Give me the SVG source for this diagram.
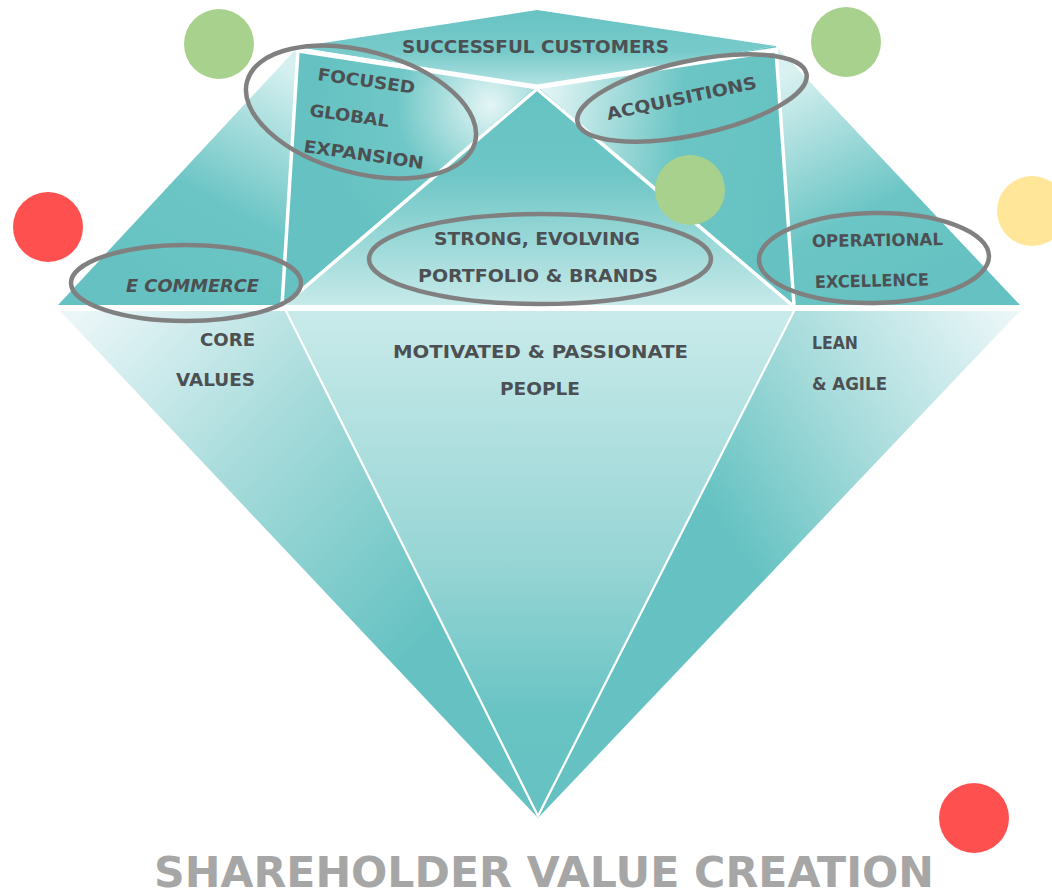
<svg xmlns="http://www.w3.org/2000/svg" width="1052" height="895" viewBox="0 0 1052 895">
  <style>
    .lbl { font-family: "DejaVu Sans", Verdana, sans-serif; font-weight: bold; fill: #4d5052; }
    .crown { font-size: 17px; }
    .pav { font-size: 18px; }
    .ring { fill: none; stroke: #808080; stroke-width: 4.5; }
    .edge { stroke: #ffffff; stroke-linecap: round; fill: none; }
    .dot-green { fill: #a9d18e; }
    .dot-red { fill: #ff5050; }
    .dot-yellow { fill: #ffe699; }
    .title { font-family: "DejaVu Sans", Verdana, sans-serif; font-weight: bold; font-size: 43px; fill: #a6a6a6; }
  </style>
  <defs>
    <linearGradient id="gTable" gradientUnits="userSpaceOnUse" x1="537" y1="10" x2="537" y2="86">
      <stop offset="0" stop-color="#68c3c3"/>
      <stop offset="0.55" stop-color="#78caca"/>
      <stop offset="1" stop-color="#b3e2e2"/>
    </linearGradient>
    <linearGradient id="gLeftCrown" gradientUnits="userSpaceOnUse" x1="290" y1="70" x2="170" y2="290">
      <stop offset="0" stop-color="#d6f0f0"/>
      <stop offset="0.6" stop-color="#6cc5c5"/>
      <stop offset="1" stop-color="#66c2c2"/>
    </linearGradient>
    <radialGradient id="gFocused" gradientUnits="userSpaceOnUse" cx="490" cy="105" r="170">
      <stop offset="0" stop-color="#e4f5f5"/>
      <stop offset="0.55" stop-color="#70c7c7"/>
      <stop offset="1" stop-color="#66c2c2"/>
    </radialGradient>
    <linearGradient id="gMiddle" gradientUnits="userSpaceOnUse" x1="537" y1="88" x2="537" y2="305">
      <stop offset="0" stop-color="#66c2c2"/>
      <stop offset="0.4" stop-color="#6ec6c6"/>
      <stop offset="1" stop-color="#c6e9e9"/>
    </linearGradient>
    <linearGradient id="gAcq" gradientUnits="userSpaceOnUse" x1="545" y1="100" x2="790" y2="130">
      <stop offset="0" stop-color="#e2f4f4"/>
      <stop offset="0.55" stop-color="#6cc5c5"/>
      <stop offset="1" stop-color="#66c2c2"/>
    </linearGradient>
    <linearGradient id="gRightCrown" gradientUnits="userSpaceOnUse" x1="790" y1="70" x2="900" y2="290">
      <stop offset="0" stop-color="#daf1f1"/>
      <stop offset="0.65" stop-color="#6cc5c5"/>
      <stop offset="1" stop-color="#66c2c2"/>
    </linearGradient>
    <linearGradient id="gPavLeft" gradientUnits="userSpaceOnUse" x1="80" y1="315" x2="420" y2="640">
      <stop offset="0" stop-color="#eaf6f8"/>
      <stop offset="0.45" stop-color="#a9dcdc"/>
      <stop offset="1" stop-color="#66c2c2"/>
    </linearGradient>
    <linearGradient id="gPavMid" gradientUnits="userSpaceOnUse" x1="538" y1="311" x2="538" y2="818">
      <stop offset="0" stop-color="#c9eaea"/>
      <stop offset="0.5" stop-color="#97d5d5"/>
      <stop offset="0.8" stop-color="#68c3c3"/>
      <stop offset="1" stop-color="#66c2c2"/>
    </linearGradient>
    <linearGradient id="gPavRight" gradientUnits="userSpaceOnUse" x1="1010" y1="320" x2="720" y2="520">
      <stop offset="0" stop-color="#eaf6f8"/>
      <stop offset="0.55" stop-color="#a6dbdb"/>
      <stop offset="1" stop-color="#66c2c2"/>
    </linearGradient>
  </defs>

  <rect width="1052" height="895" fill="#ffffff"/>

  <!-- gem facets -->
  <g id="facet-table">
    <polygon points="297,47 537,10 776,46 537,86" fill="url(#gTable)"/>
    <text class="lbl crown" x="402" y="53" textLength="267" lengthAdjust="spacingAndGlyphs">SUCCESSFUL CUSTOMERS</text>
  </g>
  <g id="facet-ecommerce">
    <polygon points="58,305 297,48 282,305" fill="url(#gLeftCrown)"/>
  </g>
  <g id="facet-focused">
    <polygon points="297,48 537,86 282,305" fill="url(#gFocused)"/>
  </g>
  <g id="facet-portfolio">
    <polygon points="537,86 284,305 792,305" fill="url(#gMiddle)"/>
  </g>
  <g id="facet-acquisitions">
    <polygon points="537,86 776,46 794,305" fill="url(#gAcq)"/>
  </g>
  <g id="facet-operational">
    <polygon points="776,46 1020,305 794,305" fill="url(#gRightCrown)"/>
  </g>
  <g id="facet-core-values">
    <polygon points="60,311 286,311 538,818" fill="url(#gPavLeft)"/>
    <text class="lbl pav" x="200" y="346" textLength="55" lengthAdjust="spacingAndGlyphs">CORE</text>
    <text class="lbl pav" x="176" y="386" textLength="79" lengthAdjust="spacingAndGlyphs">VALUES</text>
  </g>
  <g id="facet-people">
    <polygon points="286,311 794,311 538,818" fill="url(#gPavMid)"/>
    <text class="lbl pav" x="393" y="358" textLength="295" lengthAdjust="spacingAndGlyphs">MOTIVATED &amp; PASSIONATE</text>
    <text class="lbl pav" x="500" y="395" textLength="80" lengthAdjust="spacingAndGlyphs">PEOPLE</text>
  </g>
  <g id="facet-lean-agile">
    <polygon points="794,311 1020,311 538,818" fill="url(#gPavRight)"/>
    <text class="lbl pav" x="812" y="349" textLength="46" lengthAdjust="spacingAndGlyphs">LEAN</text>
    <text class="lbl pav" x="812" y="390" textLength="75" lengthAdjust="spacingAndGlyphs">&amp; AGILE</text>
  </g>

  <!-- white cuts between facets -->
  <g id="connectors">
    <polyline class="edge" stroke-width="5" points="297,50 537,87 776,50"/>
    <line class="edge" stroke-width="3.5" x1="298" y1="50" x2="282" y2="305"/>
    <line class="edge" stroke-width="3.5" x1="776" y1="50" x2="794" y2="305"/>
    <polyline class="edge" stroke-width="3.5" points="284,305 537,89 792,305"/>
    <line class="edge" stroke-width="5" x1="56" y1="308" x2="1022" y2="308"/>
    <line class="edge" stroke-width="2.2" x1="286" y1="311" x2="538" y2="816"/>
    <line class="edge" stroke-width="2.2" x1="794" y1="311" x2="538" y2="816"/>
  </g>

  <!-- highlighted themes -->
  <g id="theme-focused">
    <ellipse class="ring" cx="361" cy="112" rx="118" ry="61" transform="rotate(15 361 112)"/>
    <text class="lbl crown" x="317" y="80" textLength="98" lengthAdjust="spacingAndGlyphs" transform="rotate(8 317 80)">FOCUSED</text>
    <text class="lbl crown" x="309" y="116" textLength="80" lengthAdjust="spacingAndGlyphs" transform="rotate(8 309 116)">GLOBAL</text>
    <text class="lbl crown" x="303" y="152" textLength="121" lengthAdjust="spacingAndGlyphs" transform="rotate(8 303 152)">EXPANSION</text>
  </g>
  <g id="theme-acquisitions">
    <ellipse class="ring" cx="692" cy="98" rx="117" ry="37" transform="rotate(-12 692 98)"/>
    <text class="lbl crown" x="608" y="120" textLength="153" lengthAdjust="spacingAndGlyphs" transform="rotate(-12 608 120)">ACQUISITIONS</text>
  </g>
  <g id="theme-ecommerce">
    <ellipse class="ring" cx="186" cy="283" rx="115" ry="38"/>
    <text class="lbl crown" x="126" y="292" textLength="133" lengthAdjust="spacingAndGlyphs" font-style="italic">E COMMERCE</text>
  </g>
  <g id="theme-portfolio">
    <ellipse class="ring" cx="540" cy="259" rx="171" ry="45"/>
    <text class="lbl crown" x="434" y="245" textLength="206" lengthAdjust="spacingAndGlyphs">STRONG, EVOLVING</text>
    <text class="lbl crown" x="418" y="282" textLength="240" lengthAdjust="spacingAndGlyphs">PORTFOLIO &amp; BRANDS</text>
  </g>
  <g id="theme-operational">
    <ellipse class="ring" cx="874" cy="258" rx="115" ry="45" transform="rotate(-1 874 258)"/>
    <text class="lbl crown" x="812" y="247" textLength="131" lengthAdjust="spacingAndGlyphs" transform="rotate(-0.8 812 247)">OPERATIONAL</text>
    <text class="lbl crown" x="815" y="288" textLength="114" lengthAdjust="spacingAndGlyphs" transform="rotate(-1.3 815 288)">EXCELLENCE</text>
  </g>

  <!-- status dots -->
  <g id="status-dots">
    <circle class="dot-green" cx="219" cy="44" r="35"/>
    <circle class="dot-green" cx="846" cy="42" r="35"/>
    <circle class="dot-red" cx="48" cy="227" r="35"/>
    <circle class="dot-green" cx="690" cy="190" r="35"/>
    <circle class="dot-yellow" cx="1032" cy="211" r="35"/>
    <circle class="dot-red" cx="974" cy="818" r="35"/>
  </g>

  <g id="caption">
    <text class="title" x="154" y="887" textLength="780" lengthAdjust="spacingAndGlyphs">SHAREHOLDER VALUE CREATION</text>
  </g>
</svg>
